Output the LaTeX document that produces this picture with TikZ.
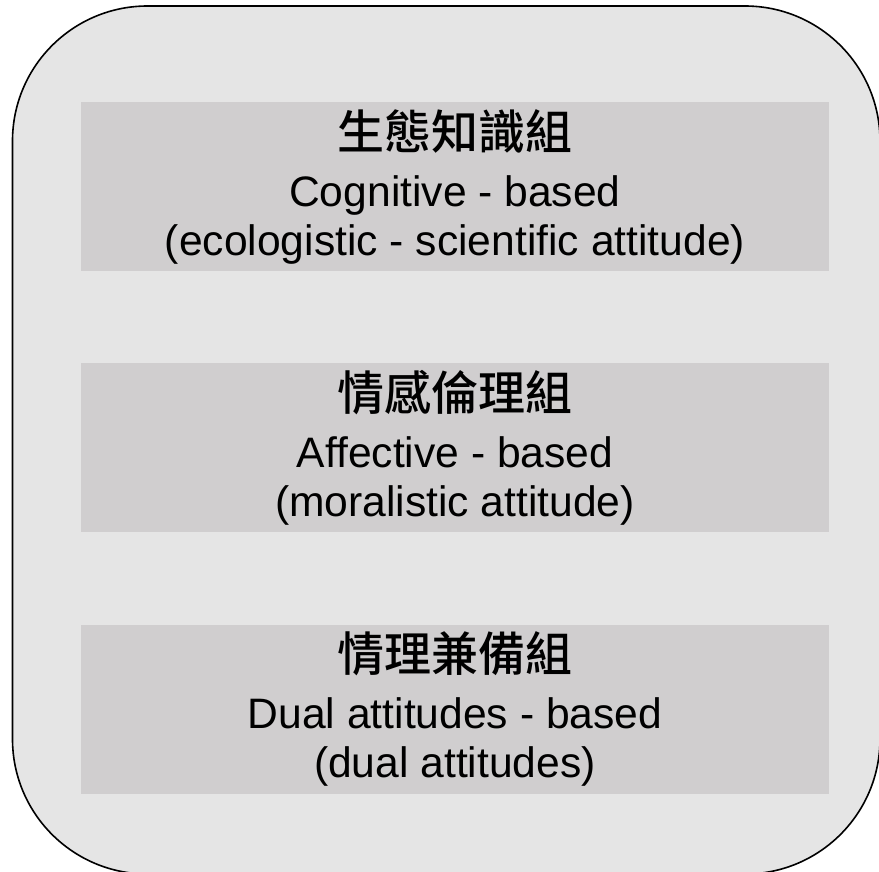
\documentclass[tikz,border=0pt]{standalone}
\usepackage{fontspec}
\setmainfont{Liberation Sans}
\newfontfamily\cjkfont[BoldFont={Noto Sans CJK TC Medium}]{Noto Sans CJK TC}
\usetikzlibrary{positioning}
\definecolor{outergray}{RGB}{229,229,229}
\definecolor{boxgray}{RGB}{208,206,207}
\tikzset{
    x=1pt, y=-1pt,
    node distance=92pt,
    groupbox/.style={fill=boxgray, minimum width=748pt, minimum height=169pt,
        inner sep=0pt, align=center, font=\fontsize{42.6}{49}\selectfont},
}
\newcommand{\grouptitle}[1]{{\cjkfont\bfseries\fontsize{47}{56}\selectfont #1}}

\begin{document}
\begin{tikzpicture}
                \useasboundingbox (0,0) rectangle (879,871);
                \draw[fill=outergray, line width=1.6pt, rounded corners=135pt] (12.5,6) rectangle (880,874);

                \node[groupbox] (cognitive) at (455,186.5) {\grouptitle{生態知識組}\\[8pt] Cognitive - based\\ (ecologistic - scientific attitude)};
                \node[groupbox, below=of cognitive] (affective) {\grouptitle{情感倫理組}\\[8pt] Affective - based\\ (moralistic attitude)};
                \node[groupbox, below=of affective] (dual) {\grouptitle{情理兼備組}\\[8pt] Dual attitudes - based\\ (dual attitudes)};
            \end{tikzpicture}
\end{document}
